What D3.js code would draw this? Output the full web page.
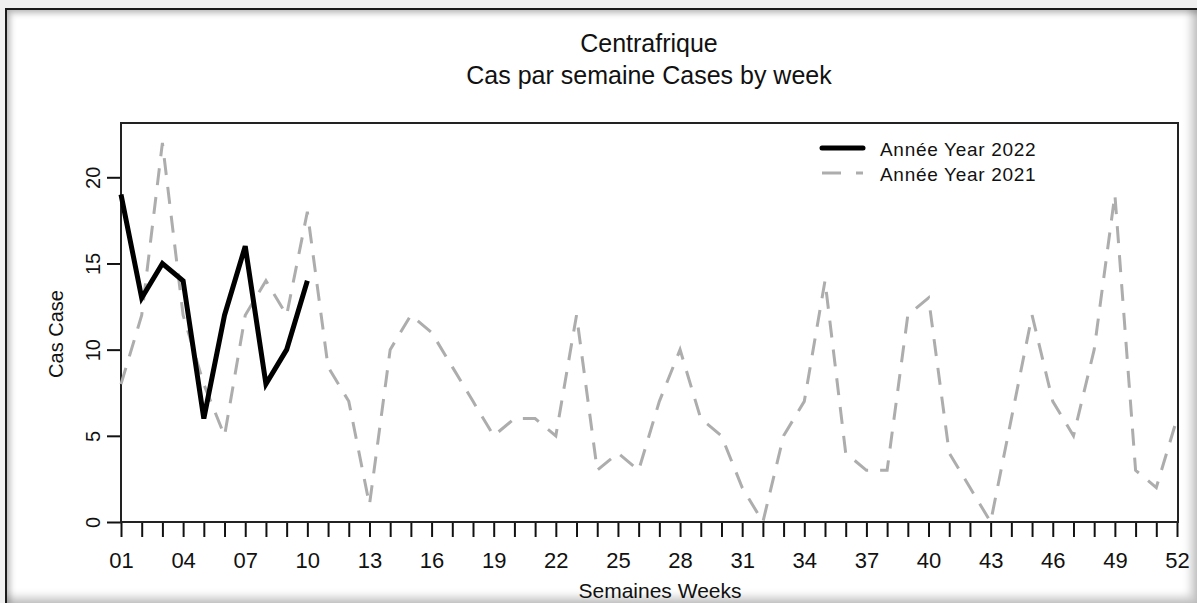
<!DOCTYPE html>
<html>
<head>
<meta charset="utf-8">
<script src="https://cdn.jsdelivr.net/npm/d3@7"></script>
<style>
  body { margin: 0; background: #f0f0f0; width: 1197px; height: 603px; overflow: hidden; position: relative; }
  #frame {
    position: absolute; left: 5px; top: 8px; width: 1192px; height: 595px;
    background: #fff; box-sizing: border-box;
    border-left: 2px solid #1a1a1a; border-top: 2px solid #1a1a1a;
    box-shadow: inset 3px 3px 6px rgba(0,0,0,0.28), inset -6px -6px 8px rgba(0,0,0,0.22);
  }
  svg { position: absolute; left: 0; top: 0; }
  text { font-family: "Liberation Sans", Arial, sans-serif; fill: #111; }
</style>
</head>
<body>
<div id="frame"></div>
<script>
// weekly cases
const weeks = d3.range(1, 53);
const cases2022 = [19, 13, 15, 14, 6, 12, 16, 8, 10, 14];
const cases2021 = [8, 12, 22, 12, 8, 5, 12, 14, 12, 18,
                   9, 7, 1, 10, 12, 11, 9, 7, 5, 6,
                   6, 5, 12, 3, 4, 3, 7, 10, 6, 5,
                   2, 0, 5, 7, 14, 4, 3, 3, 12, 13,
                   4, 2, 0, 6, 12, 7, 5, 10, 19, 3,
                   2, 6];
const xTickLabels = ["01", "04", "07", "10", "13", "16", "19", "22", "25",
                     "28", "31", "34", "37", "40", "43", "46", "49", "52"];
const yTicks = [0, 5, 10, 15, 20];
const seriesNames = ["Année Year 2022", "Année Year 2021"];
const titleLines = ["Centrafrique", "Cas par semaine Cases by week"];

const width = 1197;
const height = 603;
const plot = { left: 121, right: 1177, top: 123, bottom: 522 };

const svg = d3
  .select("body")
  .append("svg")
  .attr("width", width)
  .attr("height", height);

const xscale = d3.scaleLinear().domain([1, 52]).range([plot.left, plot.right]);
const yscale = d3.scaleLinear().domain([0, 23.15]).range([plot.bottom, plot.top]);

// titles
svg
  .selectAll("text.title")
  .data(titleLines)
  .join("text")
  .attr("class", "title")
  .attr("x", 649)
  .attr("y", (d, i) => 52 + i * 32)
  .attr("text-anchor", "middle")
  .style("font-size", "25px")
  .text((d) => d);

// x axis
const fmt = d3.format("02d");
const xaxis = d3
  .axisBottom(xscale)
  .tickValues(weeks)
  .tickSize(15)
  .tickPadding(15)
  .tickFormat((d) => (xTickLabels.includes(fmt(d)) ? fmt(d) : ""));

const gx = svg
  .append("g")
  .attr("transform", `translate(0,${plot.bottom})`)
  .call(xaxis);
gx.select(".domain").remove();
gx.selectAll(".tick line").attr("stroke", "#111").attr("stroke-width", 2);
gx.selectAll(".tick text").style("font-size", "22px").attr("fill", "#111");

// y axis
const yaxis = d3.axisLeft(yscale).tickValues(yTicks).tickSize(14);
const gy = svg.append("g").attr("transform", `translate(${plot.left},0)`).call(yaxis);
gy.select(".domain").remove();
gy.selectAll(".tick line").attr("stroke", "#111").attr("stroke-width", 2);
gy.selectAll(".tick text")
  .attr("x", null)
  .attr("dy", null)
  .attr("text-anchor", "middle")
  .attr("transform", "translate(-21,0) rotate(-90)")
  .style("font-size", "20px")
  .attr("fill", "#111");

// plot frame
svg
  .append("rect")
  .attr("x", plot.left)
  .attr("y", plot.top)
  .attr("width", plot.right - plot.left + 1)
  .attr("height", plot.bottom - plot.top)
  .attr("fill", "none")
  .attr("stroke", "#222")
  .attr("stroke-width", 2);

// axis titles
svg
  .append("text")
  .attr("x", 660)
  .attr("y", 598)
  .attr("text-anchor", "middle")
  .style("font-size", "21px")
  .text("Semaines Weeks");

svg
  .append("text")
  .attr("transform", "translate(63,334) rotate(-90)")
  .attr("text-anchor", "middle")
  .style("font-size", "20px")
  .text("Cas Case");

// lines
const line = d3
  .line()
  .x((d, i) => xscale(weeks[i]))
  .y((d) => yscale(d));

svg
  .append("path")
  .datum(cases2021)
  .attr("d", line)
  .attr("fill", "none")
  .attr("stroke", "#adadad")
  .attr("stroke-width", 3)
  .attr("stroke-dasharray", "17,12");

svg
  .append("path")
  .datum(cases2022)
  .attr("d", line)
  .attr("fill", "none")
  .attr("stroke", "#000")
  .attr("stroke-width", 5);

// legend
const legend = svg.append("g");
const legendStyles = [
  { stroke: "#000", w: 5, dash: null },
  { stroke: "#adadad", w: 3, dash: "19,15" }
];
seriesNames.forEach((name, i) => {
  const yy = 148 + i * 25;
  legend
    .append("line")
    .attr("x1", 822)
    .attr("x2", 863)
    .attr("y1", yy)
    .attr("y2", yy)
    .attr("stroke", legendStyles[i].stroke)
    .attr("stroke-width", legendStyles[i].w)
    .attr("stroke-linecap", i === 0 ? "round" : "butt")
    .attr("stroke-dasharray", legendStyles[i].dash);
  legend
    .append("text")
    .attr("x", 880)
    .attr("y", yy + 8)
    .style("font-size", "19px")
    .style("letter-spacing", "0.7px")
    .text(name);
});
</script>
</body>
</html>
